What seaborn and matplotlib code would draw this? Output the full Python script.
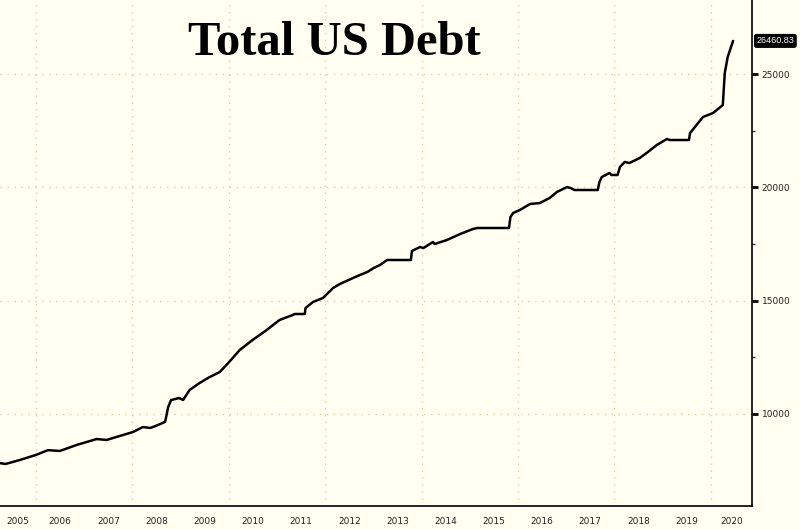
import pandas as pd
import seaborn as sns
import matplotlib.pyplot as plt
import matplotlib.transforms as mtransforms

# Total US debt, billions of USD
dates = ['2005-04-01', '2005-05-15', '2005-09-01', '2006-01-01', '2006-04-01',
         '2006-07-01', '2006-11-05', '2007-04-05', '2007-06-20', '2007-09-01',
         '2008-01-05', '2008-03-20', '2008-05-15', '2008-06-25', '2008-09-05',
         '2008-09-28', '2008-10-20', '2008-12-20', '2009-01-20', '2009-03-10',
         '2009-05-25', '2009-08-10', '2009-10-25', '2009-12-28', '2010-03-25',
         '2010-06-30', '2010-10-15', '2011-01-20', '2011-04-30', '2011-05-15',
         '2011-07-31', '2011-08-05', '2011-10-01', '2011-12-15', '2012-03-01',
         '2012-04-20', '2012-07-30', '2012-09-20', '2012-11-15', '2012-12-31',
         '2013-02-20', '2013-04-15', '2013-05-05', '2013-10-12', '2013-10-20',
         '2013-12-20', '2014-01-15', '2014-03-28', '2014-04-10', '2014-07-12',
         '2014-10-20', '2015-01-25', '2015-02-25', '2015-10-25', '2015-11-05',
         '2015-11-25', '2016-01-15', '2016-04-01', '2016-06-15', '2016-08-28',
         '2016-10-22', '2017-01-08', '2017-02-10', '2017-03-05', '2017-08-28',
         '2017-09-10', '2017-09-28', '2017-11-25', '2017-12-10', '2018-01-25',
         '2018-02-12', '2018-03-20', '2018-04-25', '2018-07-12', '2018-09-12',
         '2018-11-18', '2019-02-03', '2019-02-25', '2019-07-20', '2019-07-28',
         '2019-09-15', '2019-11-03', '2020-01-18', '2020-03-14', '2020-04-01',
         '2020-04-16', '2020-05-08', '2020-06-18']
debt = [7830, 7790, 7966, 8190, 8400,
        8365, 8630, 8890, 8850, 8980,
        9200, 9420, 9380, 9466, 9650,
        10300, 10610, 10700, 10614, 11055,
        11364, 11629, 11849, 12246, 12820,
        13261, 13702, 14144, 14365, 14409,
        14409, 14674, 14939, 15115, 15558,
        15730, 15998, 16130, 16262, 16430,
        16571, 16792, 16792, 16792, 17189,
        17365, 17321, 17586, 17498, 17674,
        17939, 18160, 18204, 18204, 18690,
        18866, 18998, 19263, 19307, 19528,
        19793, 20013, 19950, 19881, 19881,
        20234, 20455, 20631, 20543, 20543,
        20896, 21117, 21073, 21293, 21558,
        21867, 22131, 22087, 22087, 22396,
        22749, 23102, 23279, 23544, 23632,
        25044, 25750, 26461]
year_labels = [str(y) for y in range(2005, 2021)]
last_value = 26460.83

df = pd.DataFrame({'date': pd.to_datetime(dates), 'debt': debt})
df['t'] = df['date'].dt.year + (df['date'].dt.dayofyear - 1) / 365.25

bg = '#fffff2'
grid_c = '#d2d2a8'
sns.set_style('white', {'axes.facecolor': bg, 'figure.facecolor': bg})
plt.rcParams['font.family'] = ['DejaVu Sans']

fig, ax = plt.subplots(figsize=(8, 5.3), dpi=100)
fig.subplots_adjust(left=0, right=0.94, bottom=0.0453, top=1)

x0, x1 = 2005.253, 2020.855
ax.set_xlim(x0, x1)
ax.set_ylim(5936, 28266)

# dotted grid
for yr in range(2006, 2021, 2):
    ax.axvline(yr, color=grid_c, lw=1, ls=(0, (1, 4)), zorder=0)
for v in range(10000, 25001, 5000):
    ax.axhline(v, color=grid_c, lw=1, ls=(0, (1, 4)), zorder=0)

sns.lineplot(data=df, x='t', y='debt', color='black', lw=1.8, ax=ax, zorder=3)

# spines
for s in ['left', 'top']:
    ax.spines[s].set_visible(False)
for s in ['right', 'bottom']:
    ax.spines[s].set_color('black')
    ax.spines[s].set_linewidth(1.2)

# y axis on the right
ax.yaxis.tick_right()
ax.set_yticks(range(10000, 25001, 5000))
ax.set_yticks([12500, 17500, 22500], minor=True)
ax.tick_params(axis='y', which='major', direction='out', length=4, width=2,
               color='black', labelsize=6.5, labelcolor='#222222', pad=3)
ax.tick_params(axis='y', which='minor', direction='out', length=2, width=1, color='#333333')

# x axis: separators at year starts, labels centred in each year
ax.set_xticks(range(2006, 2021))
ax.set_xticklabels([])
label_pos = [(x0 + 2006) / 2] + [y + 0.5 for y in range(2006, 2020)] + [(2020 + x1) / 2]
ax.set_xticks(label_pos, minor=True)
ax.set_xticklabels(year_labels, minor=True)
ax.tick_params(axis='x', which='major', direction='out', length=18, width=0.8, color='#8a8a7a')
ax.tick_params(axis='x', which='minor', length=0, labelsize=6.5, labelcolor='#222222', pad=8)

ax.set_xlabel('')
ax.set_ylabel('')

# last value tag
trans = mtransforms.blended_transform_factory(ax.transAxes, ax.transData)
ax.text(1.006, last_value, f'{last_value:.2f}', transform=trans, ha='left', va='center',
        fontsize=6.5, family='Liberation Sans', color='white', clip_on=False,
        bbox=dict(boxstyle='round,pad=0.2', fc='black', ec='black'))

fig.text(0.418, 0.918, 'Total US Debt', ha='center', va='center',
         fontsize=35, fontweight='bold', family='Liberation Serif', color='black')

fig.savefig('out.png', dpi=100, facecolor=bg)
